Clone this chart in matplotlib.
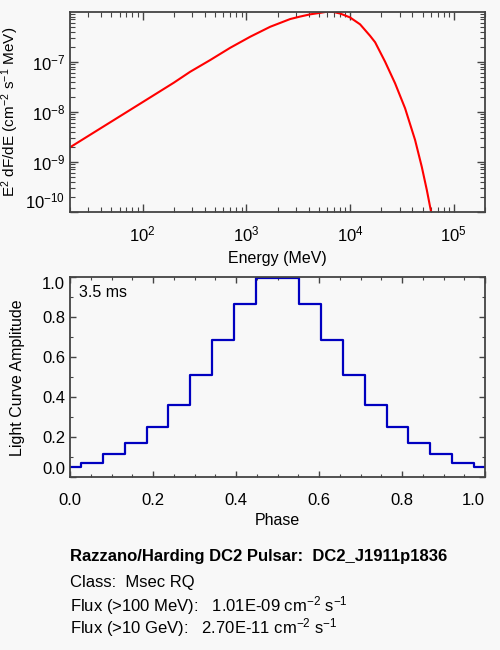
import matplotlib
matplotlib.use('Agg')
import matplotlib.pyplot as plt
from matplotlib.ticker import MultipleLocator

plt.rcParams['font.family'] = ['Liberation Sans', 'DejaVu Sans']
plt.rcParams['mathtext.fontset'] = 'custom'
plt.rcParams['mathtext.rm'] = 'Liberation Sans'
plt.rcParams['mathtext.it'] = 'Liberation Sans:italic'
plt.rcParams['mathtext.bf'] = 'Liberation Sans:bold'

# spectrum (MeV, cm^-2 s^-1 MeV)
energy = [20, 100, 200, 288, 449, 700, 1091, 1700, 2649, 3300, 4130, 5150,
          6000, 6900, 8040, 10000, 12500, 15600, 17460, 21780, 27180,
          33950, 42370, 49170, 54980, 60400]
e2dnde = [1.94e-9, 1.55e-8, 3.8e-8, 6.3e-8, 1.08e-7, 1.9e-7, 3.16e-7,
          5.0e-7, 7.14e-7, 8.0e-7, 8.87e-7, 9.5e-7,
          1.0e-6, 9.9e-7, 9.2e-7, 7.7e-7, 5.6e-7, 3.3e-7, 2.45e-7, 1.0e-7,
          3.7e-8, 1.17e-8, 2.72e-9, 7.9e-10, 2.72e-10, 1.0e-10]

# light curve
phase = [0.0, 0.053, 0.105, 0.158, 0.211, 0.263, 0.316, 0.368, 0.421, 0.474,
         0.526, 0.579, 0.632, 0.684, 0.737, 0.789, 0.842, 0.895, 0.947, 1.0]
amp = [0.053, 0.073, 0.118, 0.17, 0.252, 0.362, 0.51, 0.685, 0.868, 0.995,
       0.995, 0.868, 0.685, 0.51, 0.362, 0.252, 0.17, 0.118, 0.073, 0.053]

info = ['Razzano/Harding DC2 Pulsar:  DC2_J1911p1836',
        'Class:  Msec RQ',
        'Flux (>100 MeV):   1.01E-09 cm$^{-2}$ s$^{-1}$',
        'Flux (>10 GeV):   2.70E-11 cm$^{-2}$ s$^{-1}$']

bg = '#f8f8f8'
fc = '#444444'
fig = plt.figure(figsize=(5, 6.5), dpi=100, facecolor=bg)

ax1 = fig.add_axes([0.14, 0.6743, 0.83, 0.3068], facecolor=bg)
ax1.plot(energy, e2dnde, color='red', linewidth=1.5)
ax1.set_xscale('log')
ax1.set_yscale('log')
ax1.set_xlim(20, 2e5)
ax1.set_ylim(1e-10, 9.75e-7)
ax1.set_xlabel('Energy (MeV)', fontsize=11.5)
ax1.set_ylabel('E$^2$ dF/dE (cm$^{-2}$ s$^{-1}$ MeV)', fontsize=11)
ax1.yaxis.set_label_coords(-0.117, 0.5)
ax1.xaxis.set_label_coords(0.5, -0.197)
ax1.tick_params(which='both', direction='in', top=True, right=True,
                color=fc, labelsize=12)
ax1.tick_params(which='major', length=6, width=1)
ax1.tick_params(which='minor', length=3.5, width=0.8)
ax1.tick_params(axis='x', pad=9)
fig.canvas.draw()
ax1.yaxis.get_major_ticks()[1].label1.set_verticalalignment('bottom')

ax2 = fig.add_axes([0.14, 0.2657, 0.83, 0.3077], facecolor=bg)
ax2.step(phase, amp, where='mid', color='#0000c0', linewidth=1.6)
ax2.set_xlim(0, 1)
ax2.set_ylim(0, 1.0)
ax2.xaxis.set_major_locator(MultipleLocator(0.2))
ax2.xaxis.set_minor_locator(MultipleLocator(0.05))
ax2.yaxis.set_major_locator(MultipleLocator(0.2))
ax2.yaxis.set_minor_locator(MultipleLocator(0.1))
ax2.xaxis.set_major_formatter(lambda v, p: f'{v:.1f}')
ax2.yaxis.set_major_formatter(lambda v, p: f'{v:.1f}')
ax2.set_xlabel('Phase', fontsize=11.5)
ax2.set_ylabel('Light Curve Amplitude', fontsize=11.5)
ax2.yaxis.set_label_coords(-0.108, 0.5)
ax2.xaxis.set_label_coords(0.5, -0.18)
ax2.tick_params(which='both', direction='in', top=True, right=True,
                color=fc, labelsize=12)
ax2.tick_params(which='major', length=4.5, width=1)
ax2.tick_params(which='minor', length=2.5, width=0.8)
ax2.tick_params(axis='x', pad=11)
ax2.text(0.022, 0.923, '3.5 ms', transform=ax2.transAxes, fontsize=11.5,
         va='center', ha='left')
fig.canvas.draw()
# keep the end labels inside the frame, as in the original
for t in ax2.yaxis.get_major_ticks():
    v = t.get_loc()
    if abs(v) < 1e-6:
        t.label1.set_verticalalignment('bottom')
    elif abs(v - 1) < 1e-6:
        t.label1.set_verticalalignment('top')
for t in ax2.xaxis.get_major_ticks():
    if abs(t.get_loc() - 1) < 1e-6:
        t.label1.set_horizontalalignment('right')

for ax in (ax1, ax2):
    for s in ax.spines.values():
        s.set_color(fc)
        s.set_linewidth(1.3)

ys = [557, 582, 606, 628]
for i, (t, y) in enumerate(zip(info, ys)):
    fig.text(0.14, 1 - y / 650, t, fontsize=12, va='center', ha='left',
             fontweight='bold' if i == 0 else 'normal')

fig.savefig('out.png', dpi=100, facecolor=bg)
